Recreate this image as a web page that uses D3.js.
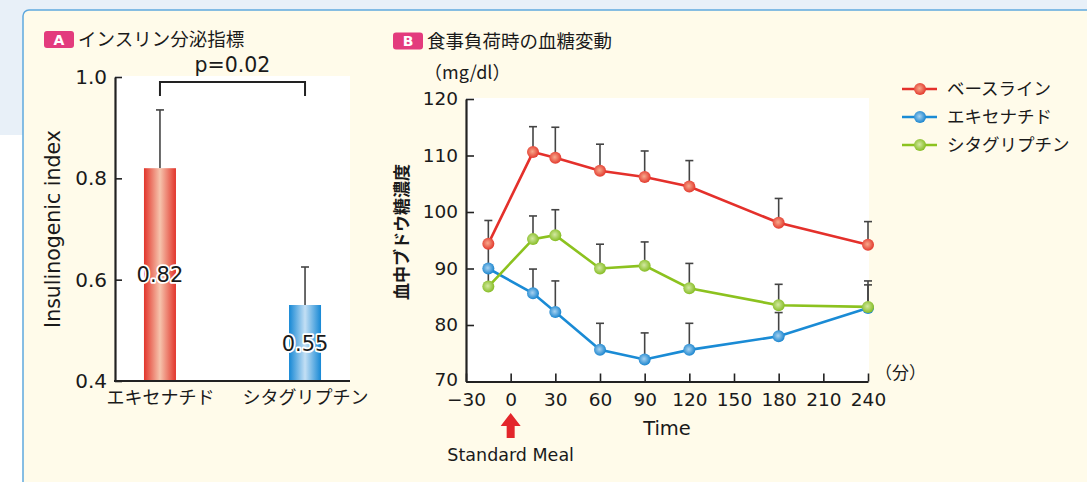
<!DOCTYPE html>
<html lang="ja">
<head>
<meta charset="utf-8">
<script src="https://cdn.jsdelivr.net/npm/d3@7"></script>
<style>
  html, body { margin: 0; padding: 0; background: #ffffff; }
  svg { display: block; }
  .lat { font-family: "DejaVu Sans", "Noto Sans CJK JP", sans-serif; fill: #1a1a1a; }
  .jp  { font-family: "Noto Sans CJK JP", "Noto Sans", sans-serif; fill: #1a1a1a; }
</style>
</head>
<body>
<svg id="chart" width="1087" height="482"></svg>
<script>
// ---- Panel A: insulinogenic index ----
const drugs = ["エキセナチド", "シタグリプチン"];
const insulinIndex = [0.82, 0.55];
const insulinSD = [0.115, 0.075];
const indexTicks = [0.4, 0.6, 0.8, 1.0];
const pValueText = "p=0.02";

// ---- Panel B: blood glucose after a standard meal ----
const minutes = [-15, 15, 30, 60, 90, 120, 180, 240];
const seriesNames = ["ベースライン", "エキセナチド", "シタグリプチン"];
const baselineGlucose = [94.4, 110.6, 109.6, 107.3, 106.2, 104.5, 98.1, 94.2];
const baselineSD = [4.1, 4.5, 5.4, 4.7, 4.6, 4.6, 4.3, 4.1];
const exenatideGlucose = [90.0, 85.6, 82.3, 75.6, 73.9, 75.6, 78.0, 83.0];
const exenatideSD = [4.5, 4.3, 5.5, 4.7, 4.7, 4.7, 4.2, 4.1];
const sitagliptinGlucose = [86.8, 95.2, 95.9, 90.0, 90.5, 86.5, 83.5, 83.2];
const sitagliptinSD = [3.5, 4.1, 4.5, 4.3, 4.2, 4.4, 3.7, 4.6];
const timeTicks = [-30, 0, 30, 60, 90, 120, 150, 180, 210, 240];
const glucoseTicks = [70, 80, 90, 100, 110, 120];

const svg = d3.select("#chart");
const defs = svg.append("defs");

// Page background and framed cream panel
svg.append("rect").attr("x", 0).attr("y", 0).attr("width", 1087).attr("height", 135).attr("fill", "#e8f0f8");
svg.append("rect").attr("x", 23).attr("y", 10).attr("width", 1100).attr("height", 500)
  .attr("rx", 6).attr("fill", "#fffbea").attr("stroke", "#5fa9de").attr("stroke-width", 1.5);

// Gradients for bars
function barGradient(id, edge, mid) {
  const g = defs.append("linearGradient").attr("id", id).attr("x1", "0%").attr("x2", "100%");
  g.append("stop").attr("offset", "0%").attr("stop-color", edge);
  g.append("stop").attr("offset", "50%").attr("stop-color", mid);
  g.append("stop").attr("offset", "100%").attr("stop-color", edge);
}
barGradient("barRed", "#e2352b", "#f6c4ad");
barGradient("barBlue", "#1688d5", "#c3dff4");

// Gradients for line markers
function dotGradient(id, edge, mid) {
  const g = defs.append("radialGradient").attr("id", id).attr("cx", "45%").attr("cy", "45%").attr("r", "55%");
  g.append("stop").attr("offset", "0%").attr("stop-color", mid);
  g.append("stop").attr("offset", "100%").attr("stop-color", edge);
}
const lineColors = ["#e4302b", "#1a8bd5", "#8cc21f"];
dotGradient("dot0", "#e33a2e", "#f7a98c");
dotGradient("dot1", "#1a85cf", "#a8d2f0");
dotGradient("dot2", "#86bd24", "#d3e8a2");

// Panel headers with letter badges
function header(x, y, letter, title) {
  svg.append("rect").attr("x", x).attr("y", y).attr("width", 30).attr("height", 17)
    .attr("rx", 3).attr("fill", "#e33b7d");
  svg.append("text").attr("class", "lat").attr("x", x + 15).attr("y", y + 8.5).attr("dy", "0.36em")
    .attr("text-anchor", "middle").attr("font-size", 14).attr("font-weight", "bold")
    .style("fill", "#ffffff").text(letter);
  svg.append("text").attr("class", "jp").attr("x", x + 34).attr("y", y + 8.5).attr("dy", "0.36em")
    .attr("font-size", 18.5).text(title);
}
header(44, 31, "A", "インスリン分泌指標");
header(393, 32.5, "B", "食事負荷時の血糖変動");

// ================= Panel A =================
const aLeft = 115, aRight = 350, aTop = 77, aBottom = 381;
const yA = d3.scaleLinear().domain([0.4, 1.0]).range([aBottom, aTop]);
const xA = d3.scalePoint().domain(drugs).range([aLeft, aRight]).padding(0.31);
const barW = 32;

svg.append("rect").attr("x", aLeft).attr("y", aTop - 1).attr("width", aRight - aLeft).attr("height", aBottom - aTop + 1)
  .attr("fill", "#ffffff");

const gA = svg.append("g");
const barsA = drugs.map((d, i) => ({ name: d, v: insulinIndex[i], sd: insulinSD[i], fill: i === 0 ? "url(#barRed)" : "url(#barBlue)" }));

// error whiskers (upper only)
gA.selectAll("line.err").data(barsA).join("line")
  .attr("x1", d => xA(d.name)).attr("x2", d => xA(d.name))
  .attr("y1", d => yA(d.v)).attr("y2", d => yA(d.v + d.sd))
  .attr("stroke", "#444").attr("stroke-width", 1.6);
gA.selectAll("line.cap").data(barsA).join("line")
  .attr("x1", d => xA(d.name) - 4).attr("x2", d => xA(d.name) + 4)
  .attr("y1", d => yA(d.v + d.sd)).attr("y2", d => yA(d.v + d.sd))
  .attr("stroke", "#444").attr("stroke-width", 1.6);

gA.selectAll("rect.bar").data(barsA).join("rect")
  .attr("x", d => xA(d.name) - barW / 2).attr("width", barW)
  .attr("y", d => yA(d.v)).attr("height", d => yA(0.4) - yA(d.v))
  .attr("fill", d => d.fill);

// values printed mid-bar with a white halo
gA.selectAll("text.val").data(barsA).join("text")
  .attr("class", "lat")
  .attr("x", d => xA(d.name)).attr("y", d => (yA(d.v) + yA(0.4)) / 2).attr("dy", "0.36em")
  .attr("text-anchor", "middle").attr("font-size", 21)
  .attr("stroke", "#ffffff").attr("stroke-width", 3.5).attr("paint-order", "stroke")
  .attr("stroke-linejoin", "round")
  .text(d => d.v.toFixed(2));

// significance bracket
const bracketY = yA(0.99);
gA.append("path")
  .attr("d", `M${xA(drugs[0])},${bracketY + 14}V${bracketY}H${xA(drugs[1])}V${bracketY + 14}`)
  .attr("fill", "none").attr("stroke", "#222").attr("stroke-width", 2);
gA.append("text").attr("class", "lat")
  .attr("x", (xA(drugs[0]) + xA(drugs[1])) / 2).attr("y", bracketY - 17).attr("dy", "0.36em")
  .attr("text-anchor", "middle").attr("font-size", 20.5).text(pValueText);

// axes
const yAxisA = gA.append("g").attr("transform", `translate(${aLeft},0)`)
  .call(d3.axisLeft(yA).tickValues(indexTicks).tickFormat(d3.format(".1f"))
    .tickSizeInner(-7).tickSizeOuter(0).tickPadding(8));
const xAxisA = gA.append("g").attr("transform", `translate(0,${aBottom})`)
  .call(d3.axisBottom(xA).tickSize(0).tickPadding(10));
xAxisA.select(".domain").remove();
gA.append("line").attr("x1", aLeft - 1).attr("x2", aRight).attr("y1", aBottom).attr("y2", aBottom)
  .attr("stroke", "#222").attr("stroke-width", 2.2);
yAxisA.select(".domain").attr("stroke", "#222").attr("stroke-width", 2.2);
yAxisA.selectAll(".tick line").attr("stroke", "#222").attr("stroke-width", 1.6);
yAxisA.selectAll(".tick text").attr("class", "lat").attr("font-size", 20).attr("font-family", null).style("fill", "#1a1a1a");
xAxisA.selectAll(".tick text").attr("class", "jp").attr("font-size", 18).attr("font-family", null).style("fill", "#1a1a1a");

gA.append("text").attr("class", "lat")
  .attr("transform", `translate(53,${(aTop + aBottom) / 2}) rotate(-90)`).attr("dy", "0.36em")
  .attr("text-anchor", "middle").attr("font-size", 20.5).text("Insulinogenic index");

// ================= Panel B =================
const bLeft = 466, bRight = 868, bTop = 99, bBottom = 381.5;
const xB = d3.scaleLinear().domain([-30, 240]).range([bLeft, bRight]);
const yB = d3.scaleLinear().domain([70, 120]).range([bBottom, bTop]);

svg.append("rect").attr("x", bLeft).attr("y", bTop - 1).attr("width", bRight - bLeft + 1).attr("height", bBottom - bTop + 1)
  .attr("fill", "#ffffff");

const gB = svg.append("g");
const series = [
  { name: seriesNames[0], v: baselineGlucose, sd: baselineSD },
  { name: seriesNames[1], v: exenatideGlucose, sd: exenatideSD },
  { name: seriesNames[2], v: sitagliptinGlucose, sd: sitagliptinSD }
].map((s, k) => ({ ...s, k, pts: minutes.map((t, i) => ({ t, v: s.v[i], sd: s.sd[i] })) }));

// axes first so the data sits above the ticks
const xAxisB = gB.append("g").attr("transform", `translate(0,${bBottom})`)
  .call(d3.axisBottom(xB).tickValues(timeTicks).tickFormat(d => d < 0 ? "−" + Math.abs(d) : d)
    .tickSizeInner(-8).tickSizeOuter(0).tickPadding(11));
const yAxisB = gB.append("g").attr("transform", `translate(${bLeft},0)`)
  .call(d3.axisLeft(yB).tickValues(glucoseTicks).tickSizeInner(-8).tickSizeOuter(0).tickPadding(8));
[xAxisB, yAxisB].forEach(ax => {
  ax.select(".domain").attr("stroke", "#222").attr("stroke-width", 2.2);
  ax.selectAll(".tick line").attr("stroke", "#222").attr("stroke-width", 1.6);
  ax.selectAll(".tick text").attr("class", "lat").attr("font-size", 18.5).attr("font-family", null).style("fill", "#1a1a1a");
});
// lift the lowest glucose label slightly so it clears the time labels
yAxisB.selectAll(".tick text").filter(d => d === 70).attr("dy", "0.2em");

// error whiskers (upper only)
series.forEach(s => {
  const g = gB.append("g");
  g.selectAll("line.err").data(s.pts).join("line")
    .attr("x1", d => xB(d.t)).attr("x2", d => xB(d.t))
    .attr("y1", d => yB(d.v)).attr("y2", d => yB(d.v + d.sd))
    .attr("stroke", "#444").attr("stroke-width", 1.6);
  g.selectAll("line.cap").data(s.pts).join("line")
    .attr("x1", d => xB(d.t) - 4).attr("x2", d => xB(d.t) + 4)
    .attr("y1", d => yB(d.v + d.sd)).attr("y2", d => yB(d.v + d.sd))
    .attr("stroke", "#444").attr("stroke-width", 1.6);
});

const line = d3.line().x(d => xB(d.t)).y(d => yB(d.v));
series.forEach(s => {
  gB.append("path").datum(s.pts).attr("d", line)
    .attr("fill", "none").attr("stroke", lineColors[s.k]).attr("stroke-width", 2.6);
});
series.forEach(s => {
  gB.append("g").selectAll("circle").data(s.pts).join("circle")
    .attr("cx", d => xB(d.t)).attr("cy", d => yB(d.v)).attr("r", 6)
    .attr("fill", `url(#dot${s.k})`);
});

// axis captions
gB.append("text").attr("class", "lat").attr("x", (bLeft + bRight) / 2).attr("y", 428).attr("dy", "0.36em")
  .attr("text-anchor", "middle").attr("font-size", 19.5).text("Time");
gB.append("text").attr("class", "jp").attr("x", bRight + 7).attr("y", 373).attr("dy", "0.36em")
  .attr("font-size", 17).text("（分）");
gB.append("text").attr("class", "jp").attr("x", 424).attr("y", 73).attr("dy", "0.36em")
  .attr("font-size", 18).text("（mg/dl）");
gB.append("text").attr("class", "jp")
  .attr("transform", `translate(402,232) rotate(-90)`).attr("dy", "0.36em")
  .attr("text-anchor", "middle").attr("font-size", 17).attr("font-weight", "bold").text("血中ブドウ糖濃度");

// meal marker at t = 0
const mx = xB(0);
gB.append("path")
  .attr("d", `M${mx},413 L${mx + 10},426 L${mx + 4},426 L${mx + 4},438 L${mx - 4},438 L${mx - 4},426 L${mx - 10},426 Z`)
  .attr("fill", "#e3262b");
gB.append("text").attr("class", "lat").attr("x", mx).attr("y", 455).attr("dy", "0.36em")
  .attr("text-anchor", "middle").attr("font-size", 17.5).text("Standard Meal");

// legend
const legend = svg.append("g").selectAll("g").data(series).join("g")
  .attr("transform", (d, i) => `translate(902,${89 + i * 28})`);
legend.append("line").attr("x1", 0).attr("x2", 35).attr("y1", 0).attr("y2", 0)
  .attr("stroke", d => lineColors[d.k]).attr("stroke-width", 2.6);
legend.append("circle").attr("cx", 18).attr("cy", 0).attr("r", 6).attr("fill", d => `url(#dot${d.k})`);
legend.append("text").attr("class", "jp").attr("x", 45).attr("y", 0).attr("dy", "0.36em")
  .attr("font-size", 17.5).text(d => d.name);
</script>
</body>
</html>
